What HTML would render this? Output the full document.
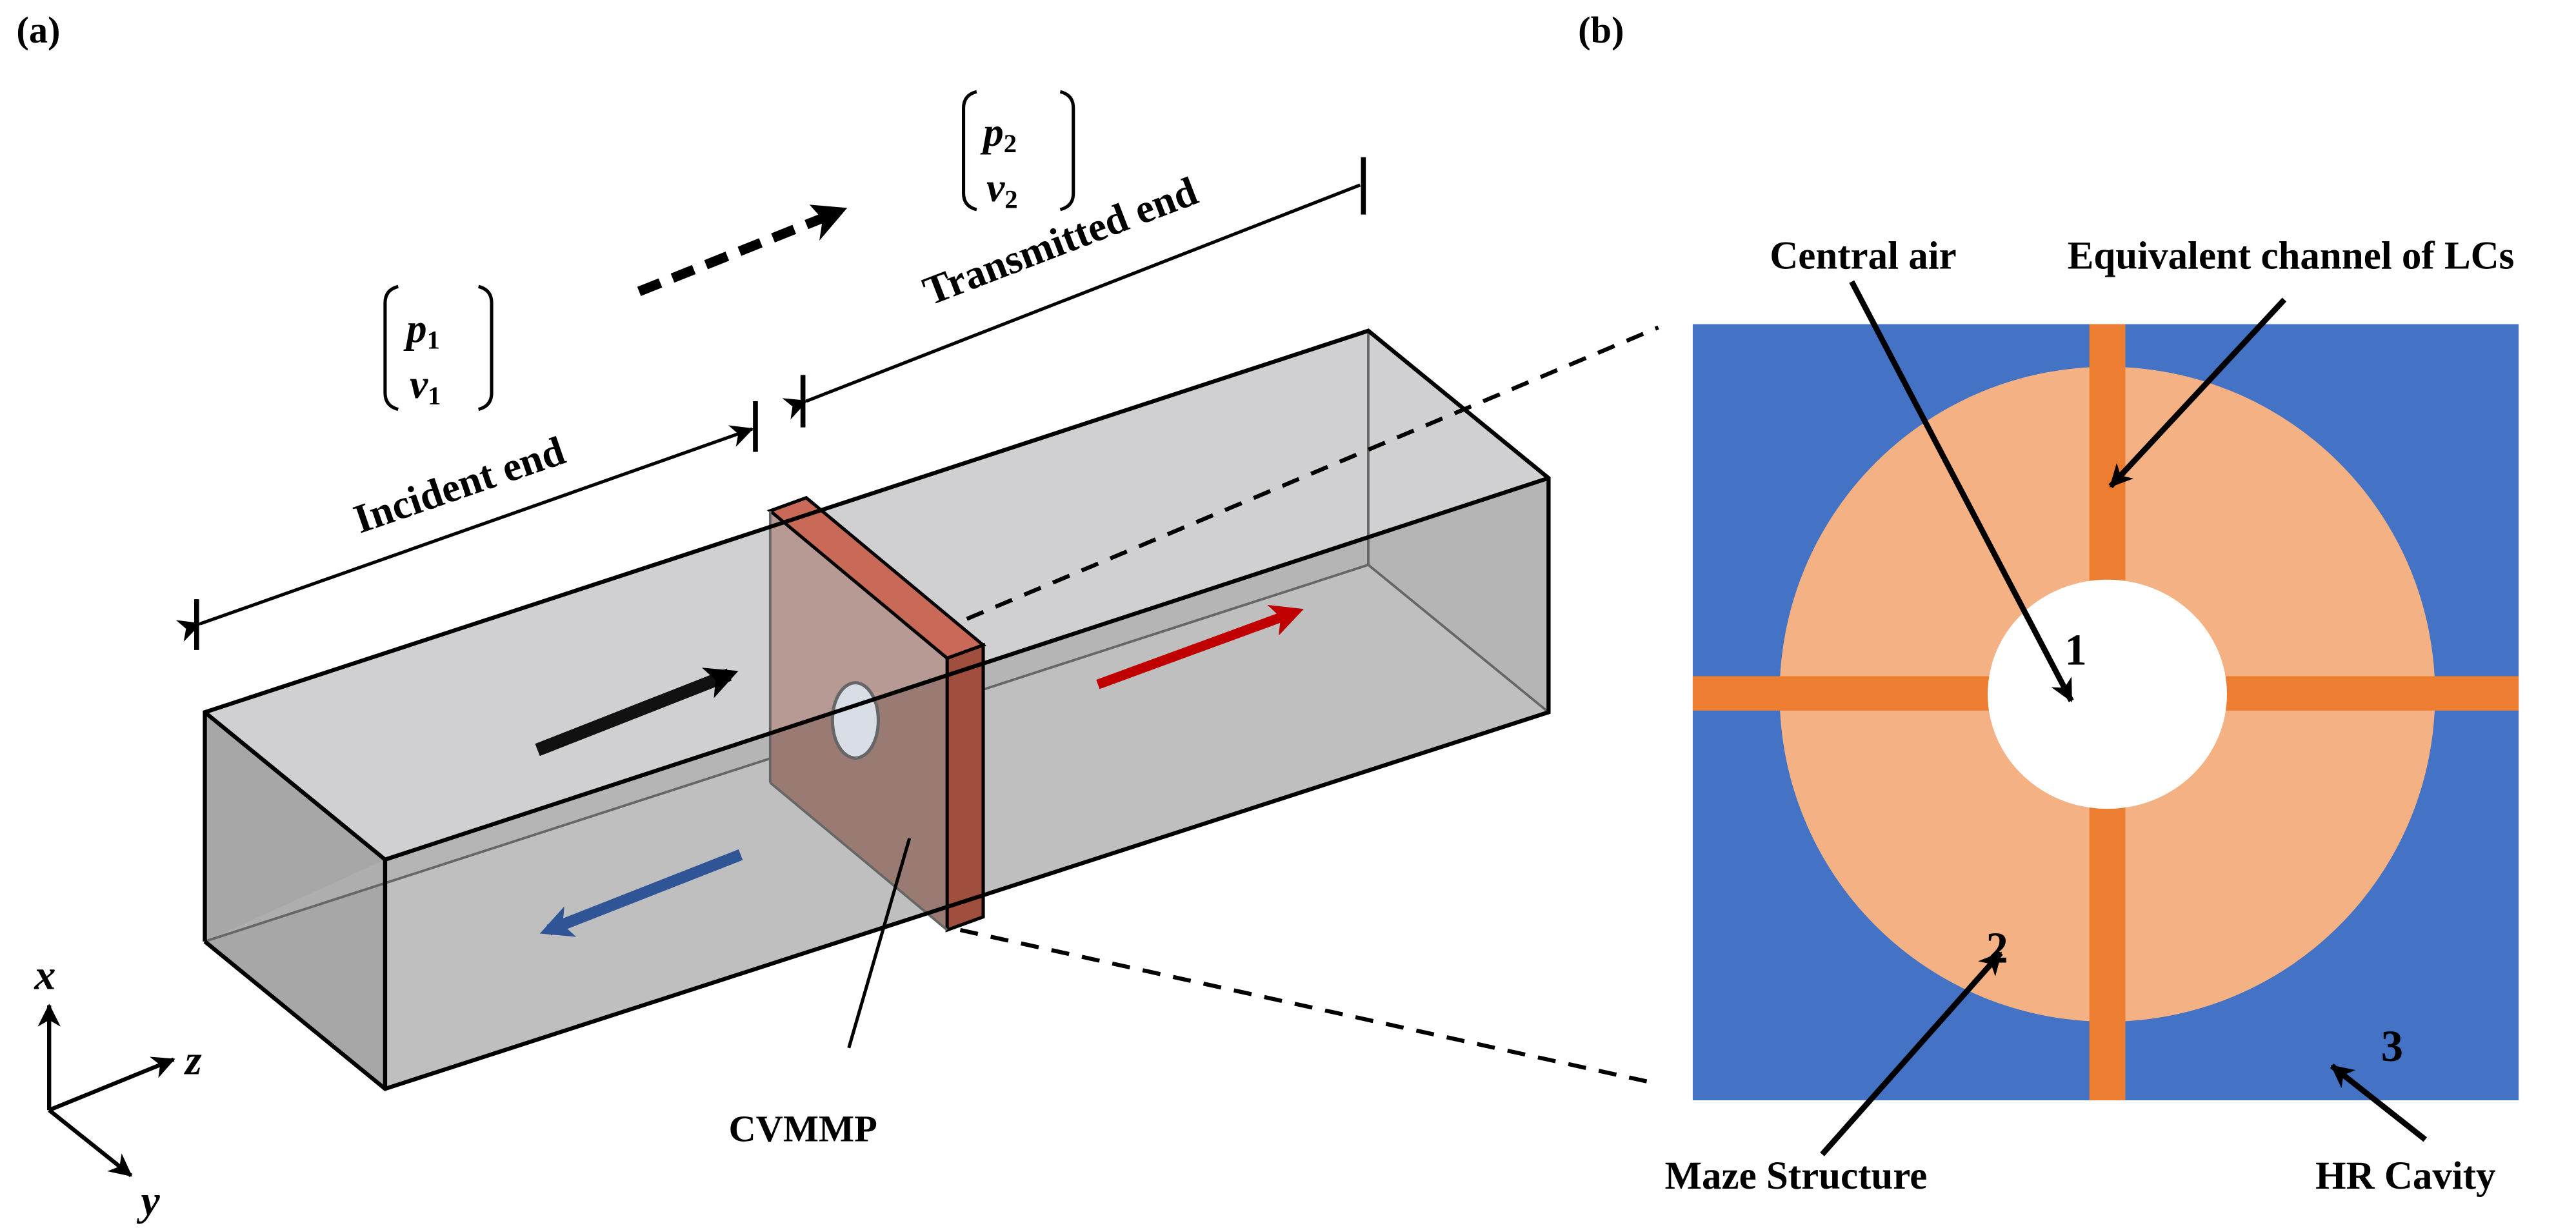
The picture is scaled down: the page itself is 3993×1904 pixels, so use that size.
<!DOCTYPE html>
<html><head><meta charset="utf-8"><style>
html,body{margin:0;padding:0;background:#fff;}
svg{display:block;}
text{font-family:"Liberation Serif",serif;font-weight:bold;fill:#000;}
</style></head><body>
<svg width="3993" height="1904" viewBox="0 0 1572 750" preserveAspectRatio="none" xmlns="http://www.w3.org/2000/svg">
<defs>
<marker id="ah" markerWidth="16" markerHeight="16" refX="13" refY="7" orient="auto" markerUnits="userSpaceOnUse">
<path d="M0,0 L14,7 L0,14 L4,7 z" fill="#000"/></marker>
<marker id="ahb" markerWidth="24" markerHeight="24" refX="14" refY="12" orient="auto" markerUnits="userSpaceOnUse">
<path d="M0,2 L20,12 L0,22 L5,12 z" fill="#000"/></marker>
<marker id="ahr" markerWidth="24" markerHeight="24" refX="14" refY="12" orient="auto" markerUnits="userSpaceOnUse">
<path d="M0,2 L20,12 L0,22 L5,12 z" fill="#c00000"/></marker>
<marker id="ahbl" markerWidth="24" markerHeight="24" refX="14" refY="12" orient="auto" markerUnits="userSpaceOnUse">
<path d="M0,2 L20,12 L0,22 L5,12 z" fill="#2f5597"/></marker>
</defs>

<text x="10" y="26" font-size="23">(a)</text>
<text x="963" y="26" font-size="23">(b)</text>

<g fill="none" stroke="#000" stroke-width="2">
<path d="M596,56 Q588,58 588,66 L588,118 Q588,126 596,128"/>
<path d="M647,56 Q655,58 655,66 L655,118 Q655,126 647,128"/>
<path d="M243,175 Q235,177 235,185 L235,240 Q235,248 243,250"/>
<path d="M292,175 Q300,177 300,185 L300,240 Q300,248 292,250"/>
</g>
<text x="600" y="89" font-size="25" font-style="italic">p<tspan font-size="16" font-style="normal" dy="4">2</tspan></text>
<text x="602" y="123" font-size="25" font-style="italic">v<tspan font-size="16" font-style="normal" dy="4">2</tspan></text>
<text x="248" y="209" font-size="25" font-style="italic">p<tspan font-size="16" font-style="normal" dy="4">1</tspan></text>
<text x="250" y="243" font-size="25" font-style="italic">v<tspan font-size="16" font-style="normal" dy="4">1</tspan></text>

<line x1="390" y1="178" x2="505" y2="132" stroke="#000" stroke-width="6" stroke-dasharray="14,8"/>
<path d="M517,127 L494,125 L502,134 L500,147 z" fill="#000"/>

<g stroke="#000" stroke-width="2">
<line x1="120" y1="366" x2="120" y2="397" stroke-width="3"/>
<line x1="461" y1="245" x2="461" y2="276" stroke-width="3"/>
<line x1="490" y1="229" x2="490" y2="261" stroke-width="3"/>
<line x1="832" y1="96" x2="832" y2="131" stroke-width="3"/>
<line x1="122" y1="381" x2="459" y2="262" marker-start="url(#ah)" marker-end="url(#ah)"/>
<line x1="492" y1="245" x2="830" y2="113" marker-start="url(#ah)"/>
</g>
<text transform="translate(283,304) rotate(-19)" font-size="25" text-anchor="middle">Incident end</text>
<text transform="translate(650,155) rotate(-21)" font-size="25" text-anchor="middle">Transmitted end</text>

<polygon points="125,435 235,525 235,665 125,575" fill="#a7a7a7"/>
<polygon points="125,435 835,202 945,292 235,525" fill="#d0d0d2"/>
<polygon points="235,525 945,292 945,435 235,665" fill="#bfbfbf"/>
<polygon points="235,525 945,292 945,435 835,345 125,575 235,525" fill="#b0b0b0" opacity="0.7"/>
<g stroke="#666" stroke-width="1.5" fill="none">
<line x1="125" y1="575" x2="835" y2="345"/>
<line x1="835" y1="202" x2="835" y2="345"/>
<line x1="835" y1="345" x2="945" y2="435"/>
</g>

<polygon points="470,312 578,402 578,568 470,478" fill="#b89a95"/>
<polygon points="470,447 578,412 578,568 470,478" fill="#9a7b74"/>
<polygon points="470,312 492,304 600,394 578,402" fill="#c96a58" stroke="#000" stroke-width="2"/>
<polygon points="578,402 600,394 600,560 578,568" fill="#a04e3e" stroke="#000" stroke-width="2"/>
<line x1="470" y1="312" x2="470" y2="478" stroke="#666" stroke-width="1.5"/>
<line x1="470" y1="478" x2="578" y2="568" stroke="#666" stroke-width="1.5"/>
<ellipse cx="522" cy="440" rx="14" ry="23" fill="#d8dde6" stroke="#666" stroke-width="2"/>

<g stroke="#000" stroke-width="2.5" fill="none">
<polyline points="125,575 125,435 835,202 945,292 945,435 235,665 125,575"/>
<line x1="125" y1="435" x2="235" y2="525"/>
<line x1="235" y1="525" x2="945" y2="292"/>
<line x1="235" y1="525" x2="235" y2="665"/>
</g>

<line x1="328" y1="458" x2="445" y2="412" stroke="#111" stroke-width="8" marker-end="url(#ahb)"/>
<line x1="670" y1="418" x2="790" y2="374" stroke="#c00000" stroke-width="6" marker-end="url(#ahr)"/>
<line x1="452" y1="522" x2="335" y2="568" stroke="#2f5597" stroke-width="7" marker-end="url(#ahbl)"/>

<line x1="555" y1="512" x2="518" y2="640" stroke="#000" stroke-width="2"/>
<text x="490" y="697" font-size="23" text-anchor="middle">CVMMP</text>

<g stroke="#000" stroke-width="2.5" stroke-dasharray="11,8">
<line x1="590" y1="378" x2="1012" y2="200"/>
<line x1="586" y1="568" x2="1012" y2="662"/>
</g>

<g stroke="#000" stroke-width="2.5">
<line x1="30" y1="678" x2="30" y2="614" marker-end="url(#ah)"/>
<line x1="30" y1="678" x2="106" y2="647" marker-end="url(#ah)"/>
<line x1="30" y1="678" x2="80" y2="718" marker-end="url(#ah)"/>
</g>
<text x="21" y="604" font-size="26" font-style="italic" font-family="Liberation Sans">x</text>
<text x="113" y="656" font-size="26" font-style="italic" font-family="Liberation Sans">z</text>
<text x="86" y="742" font-size="26" font-style="italic" font-family="Liberation Sans">y</text>

<rect x="1033" y="198" width="504" height="474" fill="#4472c4"/>
<circle cx="1286" cy="424" r="200" fill="#f4b183"/>
<rect x="1275" y="198" width="22" height="474" fill="#ed7d31"/>
<rect x="1033" y="413" width="504" height="21" fill="#ed7d31"/>
<ellipse cx="1286" cy="424" rx="73" ry="70" fill="#fff"/>

<text x="1080" y="164" font-size="24">Central air</text>
<text x="1398" y="164" font-size="24" text-anchor="middle">Equivalent channel of LCs</text>
<text x="1260" y="406" font-size="27">1</text>
<text x="1212" y="588" font-size="27">2</text>
<text x="1453" y="648" font-size="27">3</text>
<text x="1096" y="726" font-size="24" text-anchor="middle">Maze Structure</text>
<text x="1468" y="726" font-size="24" text-anchor="middle">HR Cavity</text>
<g stroke="#000" stroke-width="3.5">
<line x1="1130" y1="172" x2="1264" y2="428" marker-end="url(#ah)"/>
<line x1="1394" y1="183" x2="1288" y2="297" marker-end="url(#ah)"/>
<line x1="1112" y1="705" x2="1221" y2="582" marker-end="url(#ah)"/>
<line x1="1480" y1="696" x2="1423" y2="651" marker-end="url(#ah)"/>
</g>
</svg>
</body></html>
